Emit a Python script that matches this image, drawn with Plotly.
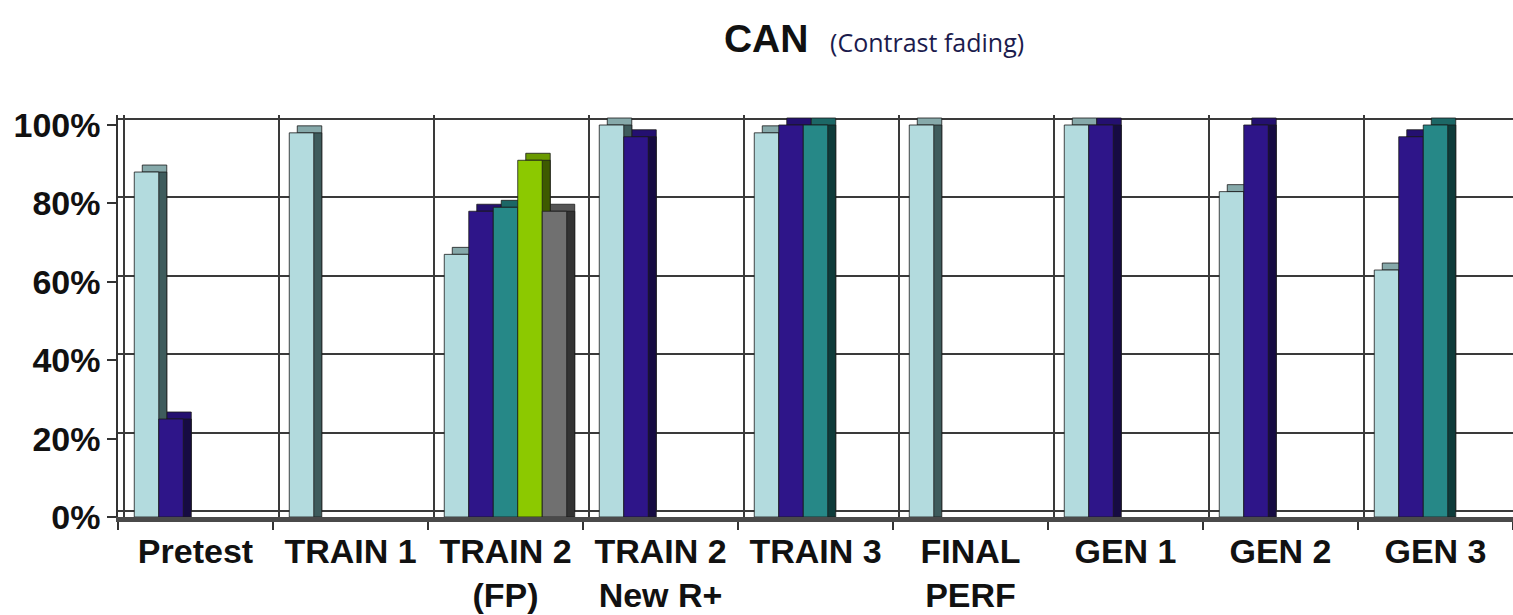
import plotly.graph_objects as go

# ---------------- data ----------------
categories = ["Pretest", "TRAIN 1", "TRAIN 2<br>(FP)", "TRAIN 2<br>New R+", "TRAIN 3",
              "FINAL<br>PERF", "GEN 1", "GEN 2", "GEN 3"]
series_a = [88, 98, 67, 100, 98, 100, 100, 83, 63]          # light blue
series_b = [25, None, 78, 97, 100, None, 100, 100, 97]      # navy
series_c = [None, None, 79, None, 100, None, None, None, 100]  # teal
series_d = [None, None, 91, None, None, None, None, None, None]  # green
series_e = [None, None, 78, None, None, None, None, None, None]  # gray
y_ticks = [0, 20, 40, 60, 80, 100]
y_tick_labels = ["0%", "20%", "40%", "60%", "80%", "100%"]

series = [series_a, series_b, series_c, series_d, series_e]
front_colors = ["#B3DBDE", "#2E1589", "#268887", "#8CC900", "#707070"]
top_colors = ["#86A9AA", "#241070", "#1C6766", "#6A9A00", "#555555"]
side_colors = ["#3E5B5C", "#160B42", "#0E3B3A", "#3E5A00", "#333333"]

# ---------------- geometry (pixels -> axis units) ----------------
W, H = 1513, 615
plot_left, plot_right = 118, 1513
plot_top, plot_bottom = 115, 517
n = len(categories)
px_per_cat = (plot_right - plot_left) / n
px_per_pct = 3.92
y_top = (plot_bottom - plot_top) / px_per_pct

wall_dx, wall_dy = 6, 6      # back wall shift
bar_dx, bar_dy = 8, 7        # bar depth

slot = 0.158
group_start = -slot * len(series) / 2
xpos = list(range(n))

fig = go.Figure()

ddx = bar_dx / px_per_cat
ddy = bar_dy / px_per_pct

# top faces
for k, s in enumerate(series):
    fig.add_trace(go.Bar(x=xpos, y=s, base=ddy, offset=group_start + k * slot + ddx, width=slot,
                         marker=dict(color=top_colors[k], line=dict(width=0.8, color="#1a1a1a")),
                         xaxis="x2", yaxis="y2", hoverinfo="skip", showlegend=False))
# side faces
for k, s in enumerate(series):
    fig.add_trace(go.Bar(x=xpos, y=s, base=0, offset=group_start + k * slot + ddx, width=slot,
                         marker=dict(color=side_colors[k], line=dict(width=0.8, color="#1a1a1a")),
                         xaxis="x2", yaxis="y2", hoverinfo="skip", showlegend=False))
# front faces
for k, s in enumerate(series):
    fig.add_trace(go.Bar(x=xpos, y=s, base=0, offset=group_start + k * slot, width=slot,
                         marker=dict(color=front_colors[k], line=dict(width=0.8, color="#1a1a1a")),
                         xaxis="x2", yaxis="y2", showlegend=False))

# placeholder on main axes so the back-wall subplot exists
fig.add_trace(go.Scatter(x=[None], y=[None], xaxis="x", yaxis="y", showlegend=False, hoverinfo="skip"))

wx = wall_dx / px_per_cat
wy = wall_dy / px_per_pct
boundaries = [i - 0.5 for i in range(n + 1)]

font_lbl = dict(family="Liberation Sans, Arial, sans-serif", size=34, color="#111111", weight="bold")

fig.update_layout(
    width=W, height=H,
    margin=dict(l=plot_left, r=W - plot_right, t=plot_top, b=H - plot_bottom, pad=0, autoexpand=False),
    paper_bgcolor="white", plot_bgcolor="white",
    barmode="overlay",
    title=dict(
        text="<b>CAN</b>&nbsp;&nbsp;<span style='font-size:25px;font-weight:normal;font-family:Open Sans;color:#1b1b4d'>(Contrast fading)</span>",
        font=dict(family="Liberation Sans, Arial, sans-serif", size=39, color="#111111"),
        x=874 / W, xanchor="center", xref="container",
        y=1 - 38 / H, yanchor="middle", yref="container", automargin=False),
    xaxis=dict(range=[-0.5 - wx, n - 0.5 - wx], tickmode="array", tickvals=boundaries,
               showticklabels=False, ticks="", showgrid=True, gridcolor="#3a3a3a", gridwidth=1.6,
               zeroline=False, showline=False, fixedrange=True, automargin=False),
    yaxis=dict(range=[0 - wy, y_top - wy], tickmode="array", tickvals=y_ticks,
               showticklabels=False, ticks="", showgrid=True, gridcolor="#3a3a3a", gridwidth=1.6,
               zeroline=False, showline=False, fixedrange=True, automargin=False),
    xaxis2=dict(overlaying="x", anchor="y2", side="bottom",
                range=[-0.5, n - 0.5], tickmode="array", tickvals=xpos, ticktext=categories,
                ticks="", showgrid=False, zeroline=False,
                showline=True, linecolor="#4a4a4a", linewidth=5,
                tickfont=font_lbl, ticklabelstandoff=0,
                minor=dict(tickmode="array", tickvals=boundaries, ticks="outside", ticklen=8,
                           tickwidth=1.5, tickcolor="#333333", showgrid=False),
                fixedrange=True, automargin=False),
    yaxis2=dict(overlaying="y", anchor="x2", side="left",
                range=[0, y_top], tickmode="array", tickvals=y_ticks, ticktext=y_tick_labels,
                ticks="outside", ticklen=9, tickwidth=1.5, tickcolor="#333333",
                showgrid=False, zeroline=False,
                showline=True, linecolor="#333333", linewidth=1.5,
                tickfont=font_lbl, ticklabelstandoff=0, fixedrange=True, automargin=False),
)

fig.write_html("out.html", config={"displayModeBar": False},
               post_script="document.body.style.margin='0';document.body.style.overflow='hidden';")
